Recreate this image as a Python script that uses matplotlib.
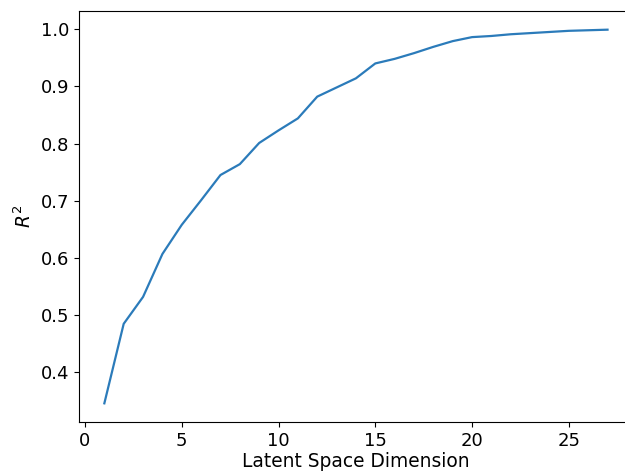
import matplotlib
matplotlib.use("Agg")
import matplotlib.pyplot as plt

dims = list(range(1, 28))
r2 = [0.346, 0.485, 0.532, 0.607, 0.658, 0.701, 0.745, 0.764, 0.801, 0.823,
      0.844, 0.882, 0.898, 0.914, 0.940, 0.948, 0.958, 0.969, 0.979, 0.986,
      0.988, 0.991, 0.993, 0.995, 0.997, 0.998, 0.999]

plt.rcParams['font.size'] = 13
fig = plt.figure(figsize=(6.25, 4.72), dpi=100)
ax = fig.add_axes([0.1267, 0.1059, 0.8856, 0.8708])
ax.plot(dims, r2, color='#2b7bba', linewidth=1.6)
ax.set_xlabel('Latent Space Dimension', fontsize=13.4, labelpad=1.5)
ax.set_ylabel('$R^2$', fontsize=13.4)
ax.set_xticks([0, 5, 10, 15, 20, 25])
ax.set_yticks([0.4, 0.5, 0.6, 0.7, 0.8, 0.9, 1.0])
fig.savefig('out.png', dpi=100)
